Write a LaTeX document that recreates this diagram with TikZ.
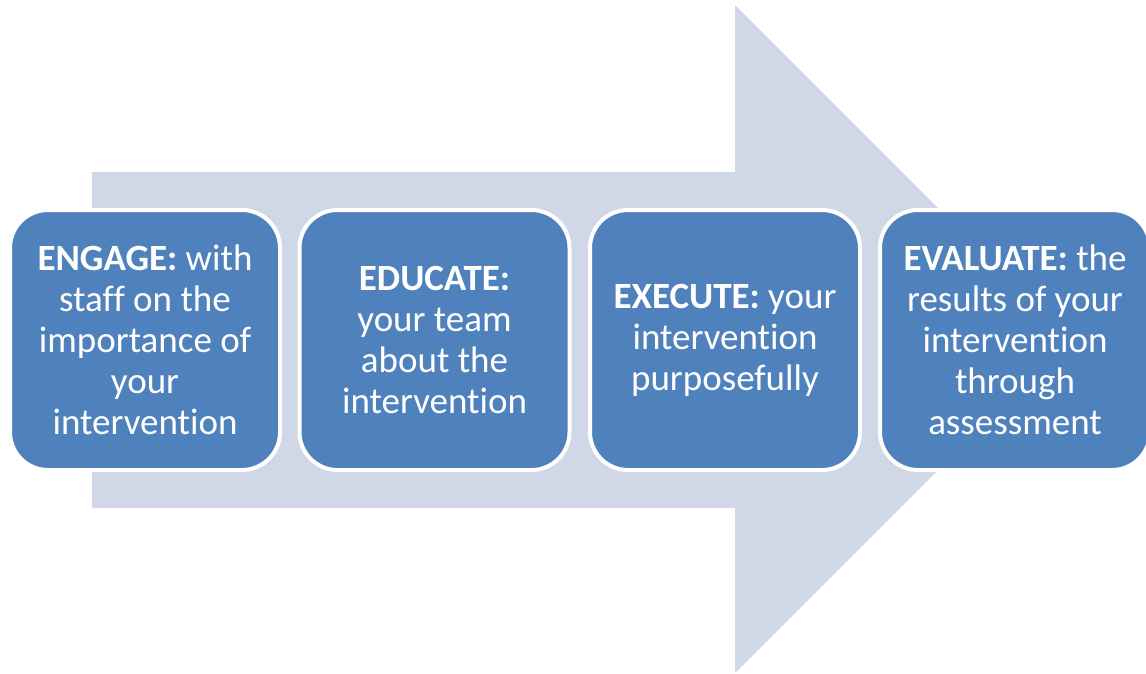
\documentclass[tikz,border=0pt]{standalone}
\usepackage{fontspec}
\setmainfont{Carlito}[Ligatures=NoCommon]
\definecolor{boxblue}{HTML}{4F81BD}
\definecolor{arrowgray}{HTML}{D0D8E8}
\begin{document}
\begin{tikzpicture}[x=1pt,y=-1pt,
  stepbox/.style={draw=white, line width=4pt, fill=boxblue, rounded corners=38pt,
    minimum width=270pt, minimum height=260pt, text=white, align=center,
    font=\fontsize{37}{41}\selectfont, inner sep=0pt}]
\useasboundingbox (0,0) rectangle (1146,673);
\clip (0,0) rectangle (1146,673);
\fill[arrowgray] (92,172) -- (735,172) -- (735,5) -- (1069,339) -- (735,673) -- (735,508) -- (92,508) -- cycle;
\node[stepbox] (engage) at (145,340) {\textbf{ENGAGE:} with\\staff on the\\importance of\\your\\intervention};
\node[stepbox] (educate) at (434.5,340) {\textbf{EDUCATE:}\\your team\\about the\\intervention};
\node[stepbox] (execute) at (725,340) {\textbf{EXECUTE:} your\\intervention\\purposefully};
\node[stepbox] (evaluate) at (1015,340) {\textbf{EVALUATE:} the\\results of your\\intervention\\through\\assessment};
\end{tikzpicture}
\end{document}
